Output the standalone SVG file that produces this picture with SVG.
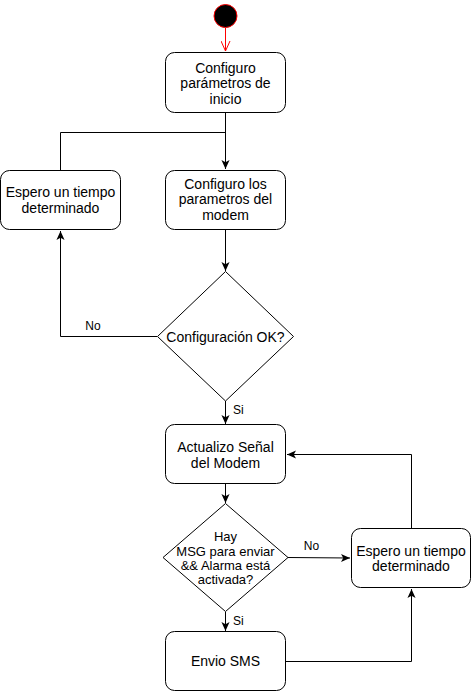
<svg xmlns="http://www.w3.org/2000/svg" width="472" height="692" viewBox="0 0 472 692">
<style>
.box{fill:#fff;stroke:#000;stroke-width:1}
.t{font-family:"Liberation Sans",Arial,sans-serif;font-size:14px;fill:#000;text-anchor:middle}
.s{font-size:13px}
.lbl{font-family:"Liberation Sans",Arial,sans-serif;font-size:12px;fill:#000}
.c{fill:none;stroke:#000;stroke-width:1}
</style>
<defs>
<marker id="arr" viewBox="0 0 10 10" refX="10" refY="5" markerWidth="9" markerHeight="9" markerUnits="userSpaceOnUse" orient="auto">
<path d="M0,0.5 L10,5 L0,9.5 L2.5,5 z" fill="#000"/>
</marker>
<marker id="open" viewBox="0 0 10 10" refX="10" refY="5" markerWidth="10" markerHeight="10" markerUnits="userSpaceOnUse" orient="auto">
<path d="M0,0.5 L10,5 L0,9.5" fill="none" stroke="#f00" stroke-width="1"/>
</marker>
</defs>
<g id="connectors">
<path class="c" d="M225.5,28 L225.5,51" stroke="#f00" style="stroke:#f00" marker-end="url(#open)"/>
<path class="c" d="M225.5,112 L225.5,169" marker-end="url(#arr)"/>
<path class="c" d="M60.5,170 L60.5,132.5 L225.5,132.5"/>
<path class="c" d="M225.5,230 L225.5,271" marker-end="url(#arr)"/>
<path class="c" d="M157,336.5 L60.5,336.5 L60.5,231" marker-end="url(#arr)"/>
<path class="c" d="M225.5,401 L225.5,424" marker-end="url(#arr)"/>
<path class="c" d="M225.5,484 L225.5,503" marker-end="url(#arr)"/>
<path class="c" d="M288,557.5 L350,558" marker-end="url(#arr)"/>
<path class="c" d="M411.5,528 L411.5,454.5 L287,454.5" marker-end="url(#arr)"/>
<path class="c" d="M225.5,612 L225.5,631" marker-end="url(#arr)"/>
<path class="c" d="M286,661.5 L411.5,661.5 L411.5,589" marker-end="url(#arr)"/>
<text class="lbl" x="93" y="330" text-anchor="middle">No</text>
<text class="lbl" x="233" y="414">Si</text>
<text class="lbl" x="311.5" y="550" text-anchor="middle">No</text>
<text class="lbl" x="233" y="625">Si</text>
</g>
<g id="start">
<circle cx="225.5" cy="16" r="11.5" fill="#000" stroke="#f00" stroke-width="1"/>
</g>
<g id="n1">
<rect class="box" x="165.5" y="52.5" width="120" height="60" rx="9"/>
<text class="t" x="225.5" y="72.5">Configuro</text>
<text class="t" x="225.5" y="88">parámetros de</text>
<text class="t" x="225.5" y="103.5">inicio</text>
</g>
<g id="n2">
<rect class="box" x="165.5" y="170.5" width="120" height="59" rx="9"/>
<text class="t" x="225.5" y="189">Configuro los</text>
<text class="t" x="225.5" y="204">parametros del</text>
<text class="t" x="225.5" y="220">modem</text>
</g>
<g id="n3">
<rect class="box" x="0.5" y="170.5" width="120" height="59" rx="9"/>
<text class="t" x="60.5" y="197">Espero un tiempo</text>
<text class="t" x="60.5" y="213">determinado</text>
</g>
<g id="d1">
<path class="box" d="M225.5,271.5 L293.5,336.5 L225.5,401 L157.5,336.5 z"/>
<text class="t" x="225.5" y="342">Configuración OK?</text>
</g>
<g id="n4">
<rect class="box" x="165.5" y="424.5" width="120" height="59" rx="9"/>
<text class="t" x="225.5" y="452">Actualizo Señal</text>
<text class="t" x="225.5" y="467.5">del Modem</text>
</g>
<g id="d2">
<path class="box" d="M225.5,503.5 L288,557.5 L225.5,611.5 L163,557.5 z"/>
<text class="t s" x="225.5" y="541">Hay</text>
<text class="t s" x="225.5" y="555.5">MSG para enviar</text>
<text class="t s" x="225.5" y="569.5">&amp;&amp; Alarma está</text>
<text class="t s" x="225.5" y="583.5">activada?</text>
</g>
<g id="n5">
<rect class="box" x="351.5" y="528.5" width="119" height="59" rx="9"/>
<text class="t" x="411" y="555.5">Espero un tiempo</text>
<text class="t" x="411" y="571">determinado</text>
</g>
<g id="n6">
<rect class="box" x="165.5" y="631.5" width="120" height="59" rx="9"/>
<text class="t" x="225.5" y="666">Envio SMS</text>
</g>
</svg>
